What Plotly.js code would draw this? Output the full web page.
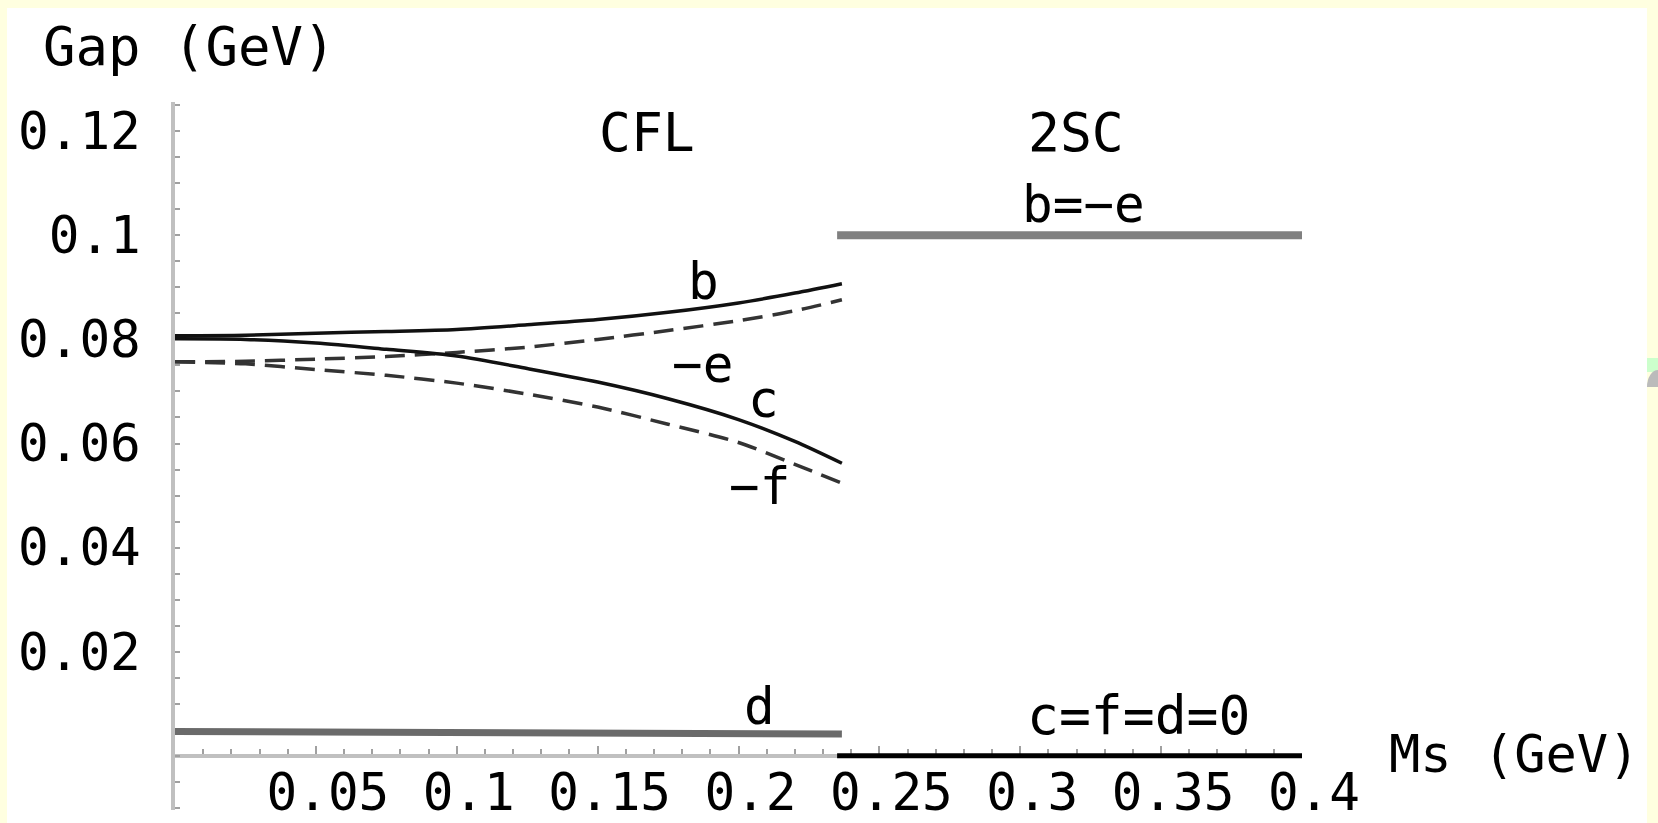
<!DOCTYPE html>
<html>
<head>
<meta charset="utf-8">
<script src="https://cdn.plot.ly/plotly-3.0.1.min.js"></script>
<style>
  html, body { margin: 0; padding: 0; background: #ffffe0; width: 1658px; height: 823px; overflow: hidden; }
  #chart { position: absolute; left: 7px; top: 8px; width: 1640px; height: 815px; background: #ffffff; }
  .deco-green { position: absolute; left: 1647px; top: 358px; width: 11px; height: 14px; background: #ccffcc; }
  .deco-grey { position: absolute; left: 1647px; top: 370px; width: 11px; height: 17px; background: #bbbbbb; border-top-left-radius: 11px 17px; }
</style>
</head>
<body>
<div id="chart"></div>
<div class="deco-green"></div>
<div class="deco-grey"></div>
<script>
// Strange quark mass Ms (GeV) in the CFL phase
const msCFL = [0, 0.025, 0.05, 0.075, 0.1, 0.125, 0.15, 0.175, 0.2, 0.22, 0.2367];
// CFL gap parameters (GeV)
const gapB    = [0.0807, 0.0808, 0.0812, 0.0815, 0.0819, 0.0828, 0.0838, 0.0852, 0.0870, 0.0889, 0.0907];
const gapC    = [0.0801, 0.0800, 0.0793, 0.0781, 0.0768, 0.0744, 0.0718, 0.0686, 0.0646, 0.0604, 0.0562];
const gapNegE = [0.0757, 0.0758, 0.0762, 0.0767, 0.0775, 0.0785, 0.0800, 0.0817, 0.0836, 0.0855, 0.0876];
const gapNegF = [0.0757, 0.0753, 0.0742, 0.0731, 0.0716, 0.0695, 0.0670, 0.0637, 0.0602, 0.0560, 0.0524];
const msD  = [0, 0.2367];
const gapD = [0.0047, 0.0042];

// 2SC phase
const ms2SC      = [0.235, 0.4];
const gapBE2SC   = [0.1, 0.1];
const gapCFD2SC  = [0, 0];

// Axis ticks
const xTickVals = [0.05, 0.1, 0.15, 0.2, 0.25, 0.3, 0.35, 0.4];
const xTickText = ['0.05', '0.1', '0.15', '0.2', '0.25', '0.3', '0.35', '0.4'];
const yTickVals = [0.02, 0.04, 0.06, 0.08, 0.1, 0.12];
const yTickText = ['0.02', '0.04', '0.06', '0.08', '0.1', '0.12'];

const xMin = 0, xMax = 0.4;
const yMin = -0.0104, yMax = 0.1256;
const FONT = 'DejaVu Sans Mono';
const txt = { family: FONT, size: 51, color: '#000000' };

function line(x, y, color, width, dash) {
  return { x: x, y: y, type: 'scatter', mode: 'lines', hoverinfo: 'skip',
           line: { color: color, width: width, dash: dash || 'solid', shape: 'spline', smoothing: 0.8 } };
}

const traces = [
  line(msD, gapD, '#6a6a6a', 7),
  line(msCFL, gapNegE, '#333333', 3.5, '20px,10px'),
  line(msCFL, gapNegF, '#333333', 3.5, '20px,10px'),
  line(msCFL, gapB, '#111111', 3.5),
  line(msCFL, gapC, '#111111', 3.5),
  line(ms2SC, gapBE2SC, '#808080', 8),
  line(ms2SC, gapCFD2SC, '#000000', 5)
];

// labels placed at (Ms, Gap) positions, converted to paper fractions so the
// axis titles outside the data range are drawn as well
function note(text, x, y, size) {
  return { text: text,
           x: (x - xMin) / (xMax - xMin), y: (y - yMin) / (yMax - yMin),
           xref: 'paper', yref: 'paper', showarrow: false,
           xanchor: 'center', yanchor: 'middle',
           font: { family: FONT, size: size || 51, color: '#000000' } };
}

const annotations = [
  note('Gap (GeV)', 0.0053, 0.1363, 54),
  note('Ms (GeV)', 0.4752, 0.0004, 52),
  note('CFL', 0.1677, 0.1197, 53),
  note('2SC', 0.3198, 0.1197, 53),
  note('b=\u2212e', 0.3223, 0.1060),
  note('b', 0.1877, 0.0912),
  note('\u2212e', 0.1874, 0.0752),
  note('c', 0.209, 0.0685),
  note('\u2212f', 0.2073, 0.0518),
  note('d', 0.2073, 0.0094),
  note('c=f=d=0', 0.3418, 0.0077, 53)
];

const layout = {
  width: 1640, height: 815,
  margin: { l: 168, r: 345, t: 94, b: 13, pad: 0 },
  paper_bgcolor: '#ffffff', plot_bgcolor: '#ffffff',
  showlegend: false,
  font: txt,
  xaxis: {
    range: [xMin, xMax], anchor: 'free', position: (0 - yMin) / (yMax - yMin),
    showline: true, linecolor: '#c0c0c0', linewidth: 4,
    showgrid: false, zeroline: false, automargin: false,
    ticks: 'inside', ticklen: 8, tickwidth: 2, tickcolor: '#a0a0a0',
    tickmode: 'array', tickvals: xTickVals, ticktext: xTickText,
    tickfont: txt, ticklabelstandoff: -9, ticklabelshift: 12,
    minor: { tickmode: 'linear', tick0: 0, dtick: 0.01, ticks: 'inside', ticklen: 5, tickwidth: 2, tickcolor: '#a0a0a0' },
    layer: 'below traces', fixedrange: true
  },
  yaxis: {
    range: [yMin, yMax],
    showline: true, linecolor: '#c0c0c0', linewidth: 4,
    showgrid: false, zeroline: false, automargin: false,
    ticks: 'inside', ticklen: 5, tickwidth: 2, tickcolor: '#a0a0a0',
    tickmode: 'array', tickvals: yTickVals, ticktext: yTickText,
    tickfont: txt, ticklabelstandoff: 20,
    minor: { tickmode: 'linear', tick0: 0, dtick: 0.005, ticks: 'inside', ticklen: 5, tickwidth: 2, tickcolor: '#a0a0a0' },
    layer: 'below traces', fixedrange: true
  },
  annotations: annotations
};

Plotly.newPlot('chart', traces, layout, { staticPlot: true, displayModeBar: false });
</script>
</body>
</html>
